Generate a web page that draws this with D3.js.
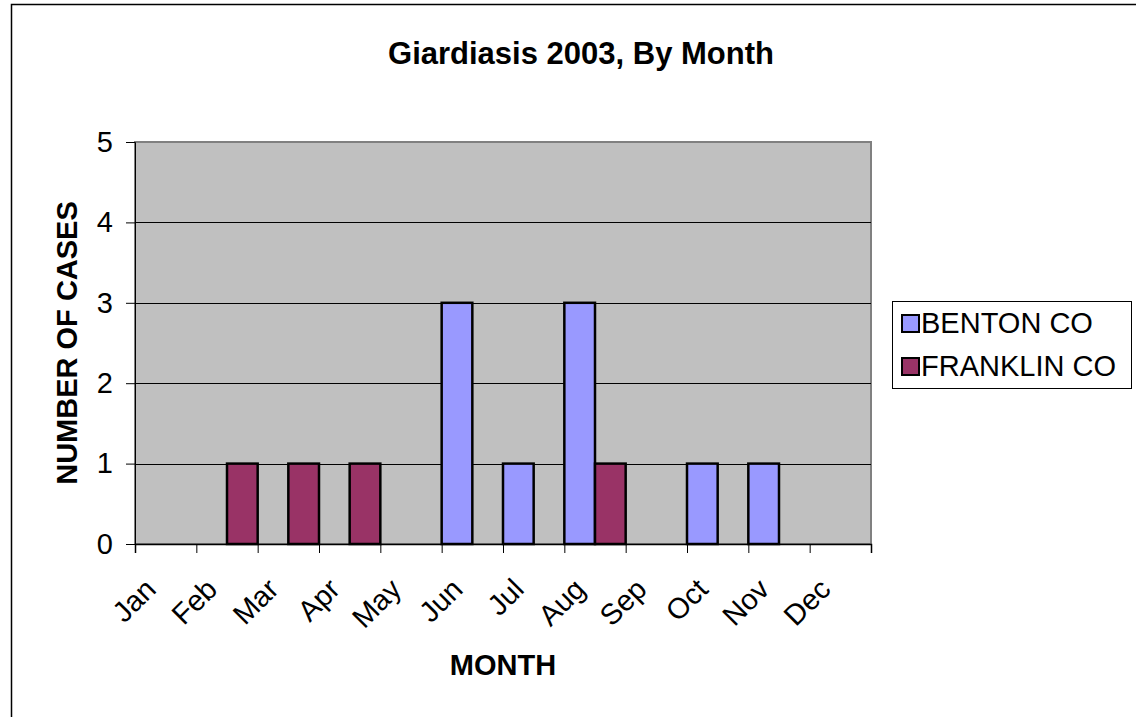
<!DOCTYPE html>
<html>
<head>
<meta charset="utf-8">
<script src="https://cdn.jsdelivr.net/npm/d3@7"></script>
<style>
	body { margin: 0; background: #fff; }
	text { font-family: Arial, "Liberation Sans", sans-serif; }
</style>
</head>
<body>
<div id="chart"></div>
<script>
var months = ['Jan', 'Feb', 'Mar', 'Apr', 'May', 'Jun', 'Jul', 'Aug', 'Sep', 'Oct', 'Nov', 'Dec'];
var seriesNames = ['BENTON CO', 'FRANKLIN CO'];
var bentonCases = [0, 0, 0, 0, 0, 3, 1, 3, 0, 1, 1, 0];
var franklinCases = [0, 1, 1, 1, 0, 0, 0, 1, 0, 0, 0, 0];
var yTicks = [0, 1, 2, 3, 4, 5];
var colors = ['#9999ff', '#993366'];

var width = 1136, height = 717;
var plot = { left: 135, right: 871, top: 142, bottom: 544 };

var svg = d3.select('#chart')
	.append('svg')
	.attr('width', width)
	.attr('height', height);

// outer chart border (only top and left are in frame)
svg.append('path')
	.attr('d', 'M11.5,717 L11.5,4.5 L1136,4.5')
	.attr('fill', 'none')
	.attr('stroke', '#000')
	.attr('stroke-width', 1.5);

var x = d3.scaleBand()
	.domain(months)
	.range([plot.left, plot.right])
	.paddingInner(0)
	.paddingOuter(0);

var xSub = d3.scaleBand()
	.domain(seriesNames)
	.range([0, x.bandwidth()]);

var y = d3.scaleLinear()
	.domain([0, 5])
	.range([plot.bottom, plot.top]);

// plot background
svg.append('rect')
	.attr('x', plot.left)
	.attr('y', plot.top)
	.attr('width', plot.right - plot.left)
	.attr('height', plot.bottom - plot.top)
	.attr('fill', '#c0c0c0')
	.attr('stroke', '#808080')
	.attr('stroke-width', 2);

// gridlines
svg.append('g')
	.selectAll('line')
	.data(yTicks.filter(function(t) { return t > 0 && t < 5; }))
	.enter()
	.append('line')
	.attr('x1', plot.left)
	.attr('x2', plot.right)
	.attr('y1', function(d) { return Math.round(y(d)) + 0.5; })
	.attr('y2', function(d) { return Math.round(y(d)) + 0.5; })
	.attr('stroke', '#000')
	.attr('stroke-width', 1);

// bars
var series = [bentonCases, franklinCases];
var barData = [];
series.forEach(function(vals, si) {
	vals.forEach(function(v, mi) {
		if (v > 0) barData.push({ month: months[mi], series: seriesNames[si], value: v, color: colors[si] });
	});
});

svg.append('g')
	.selectAll('rect')
	.data(barData)
	.enter()
	.append('rect')
	.attr('x', function(d) { return x(d.month) + xSub(d.series); })
	.attr('y', function(d) { return y(d.value); })
	.attr('width', xSub.bandwidth())
	.attr('height', function(d) { return y(0) - y(d.value); })
	.attr('fill', function(d) { return d.color; })
	.attr('stroke', '#000')
	.attr('stroke-width', 2.5);

// y axis
var yAxis = svg.append('g')
	.attr('transform', 'translate(' + plot.left + ',0)')
	.call(d3.axisLeft(y).tickValues(yTicks).tickSize(9).tickPadding(13).tickFormat(d3.format('d')));
yAxis.select('.domain').attr('stroke', '#000').attr('stroke-width', 1);
yAxis.selectAll('.tick line').attr('stroke', '#000');
yAxis.selectAll('.tick text')
	.attr('font-size', 29)
	.attr('fill', '#000')
	.style('font-family', 'Arial, "Liberation Sans", sans-serif');

// x axis ticks at band edges
var xEdge = d3.scaleLinear().domain([0, months.length]).range([plot.left, plot.right]);
var xAxis = svg.append('g')
	.attr('transform', 'translate(0,' + plot.bottom + ')')
	.call(d3.axisBottom(xEdge).tickValues(d3.range(months.length + 1)).tickSize(9).tickFormat(''));
xAxis.select('.domain').attr('stroke', '#000').attr('stroke-width', 1.5);
xAxis.selectAll('.tick line').attr('stroke', '#000');

// x labels, rotated
svg.append('g')
	.selectAll('text')
	.data(months)
	.enter()
	.append('text')
	.attr('transform', function(d) {
		return 'translate(' + (x(d) + x.bandwidth() / 2 - 8) + ',591) rotate(-45)';
	})
	.attr('text-anchor', 'end')
	.attr('font-size', 29)
	.text(function(d) { return d; });

// titles
svg.append('text')
	.attr('x', 581)
	.attr('y', 64)
	.attr('text-anchor', 'middle')
	.attr('font-size', 31)
	.attr('font-weight', 'bold')
	.text('Giardiasis 2003, By Month');

svg.append('text')
	.attr('x', (plot.left + plot.right) / 2)
	.attr('y', 675)
	.attr('text-anchor', 'middle')
	.attr('font-size', 29)
	.attr('font-weight', 'bold')
	.text('MONTH');

svg.append('text')
	.attr('transform', 'translate(77,' + ((plot.top + plot.bottom) / 2) + ') rotate(-90)')
	.attr('text-anchor', 'middle')
	.attr('font-size', 29)
	.attr('font-weight', 'bold')
	.text('NUMBER OF CASES');

// legend
var legend = svg.append('g');
legend.append('rect')
	.attr('x', 892.5)
	.attr('y', 301.5)
	.attr('width', 239)
	.attr('height', 87)
	.attr('fill', '#fff')
	.attr('stroke', '#000')
	.attr('stroke-width', 1);

var items = legend.selectAll('g.item')
	.data(seriesNames)
	.enter()
	.append('g')
	.attr('class', 'item')
	.attr('transform', function(d, i) { return 'translate(0,' + (333 + i * 43) + ')'; });

items.append('rect')
	.attr('x', 902)
	.attr('y', -18)
	.attr('width', 17)
	.attr('height', 17)
	.attr('fill', function(d, i) { return colors[i]; })
	.attr('stroke', '#000')
	.attr('stroke-width', 2);

items.append('text')
	.attr('x', 921)
	.attr('y', 0)
	.attr('font-size', 29)
	.text(function(d) { return d; });
</script>
</body>
</html>
